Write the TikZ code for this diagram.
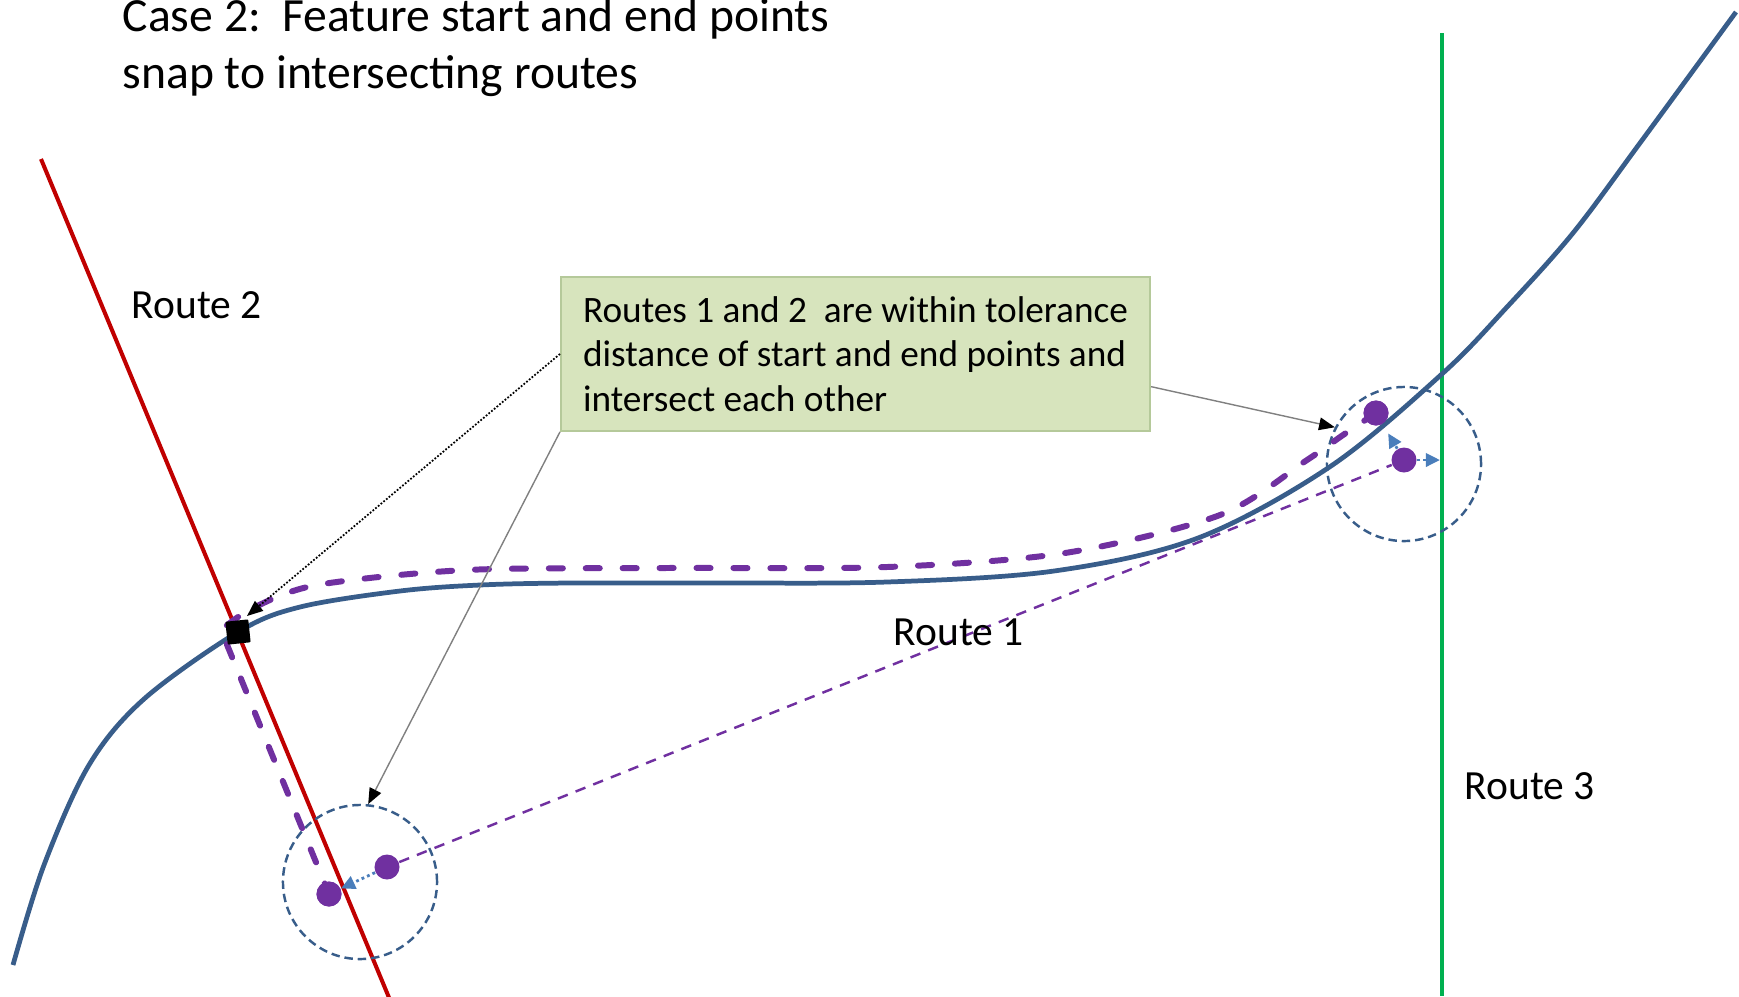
\documentclass[tikz,border=0pt]{standalone}
\usepackage{fontspec}
\setmainfont{Carlito}
\usetikzlibrary{arrows.meta,calc}
\definecolor{routeblue}{HTML}{385D8A}
\definecolor{routered}{HTML}{C00000}
\definecolor{routegreen}{HTML}{00B050}
\definecolor{featpurple}{HTML}{7030A0}
\definecolor{snapblue}{HTML}{4A7EBB}
\definecolor{notefill}{HTML}{D7E4BD}
\definecolor{noteline}{HTML}{B5C99A}
\tikzset{
  routeone/.style={draw=routeblue, line width=1.35pt},
  routetwo/.style={draw=routered, line width=1.15pt},
  routethree/.style={draw=routegreen, line width=1.25pt},
  feature/.style={draw=featpurple, line width=1.7pt, line cap=round, line join=round, dash pattern=on 4pt off 6.5pt},
  direct/.style={draw=featpurple, line width=0.7pt, dash pattern=on 3pt off 2.4pt},
  tolcircle/.style={circle, draw=routeblue, line width=0.7pt, dash pattern=on 2.4pt off 1.4pt, minimum size=1.54cm, inner sep=0pt},
  fpoint/.style={circle, fill=featpurple, minimum size=0.25cm, inner sep=0pt},
  snaparrow/.style={draw=snapblue, line width=0.8pt, dash pattern=on 0.8pt off 0.9pt, -{Triangle[length=4pt,width=3.8pt]}},
  calloutline/.style={draw=gray, line width=0.4pt, -{Triangle[length=4.5pt,width=3.6pt,color=black]}},
  calloutdots/.style={draw=black, line width=0.5pt, dash pattern=on 0.5pt off 0.5pt, -{Triangle[length=4.5pt,width=3.6pt,color=black]}},
  lab/.style={font=\fontsize{11.8}{14}\selectfont, inner sep=0pt, anchor=base west},
  notebox/.style={draw=noteline, fill=notefill, line width=0.5pt, minimum width=5.89cm, minimum height=1.54cm, inner xsep=0.2cm, inner ysep=0pt, align=left, font=\fontsize{10.6}{12.66}\selectfont},
}
\begin{document}
\begin{tikzpicture}[x=0.01cm,y=-0.01cm]
\useasboundingbox (0,0) rectangle (1739,996);
% title
\node[font=\fontsize{13.55}{16}\selectfont, inner sep=0pt, anchor=base west, align=left] (title) at (122,88)
  {Case 2:\ \ Feature start and end points\\snap to intersecting routes};
% routes
\coordinate (r2a) at (41,159);
\coordinate (r2b) at (390,1000);
\draw[routetwo] (r2a) -- (r2b);
\coordinate (r3top) at (1442,33);
\coordinate (r3bot) at (1442,996);
\draw[routethree] (r3top) -- (r3bot);
\draw[routeone] plot[smooth, tension=0.55] coordinates {(13,965) (44,865) (89,765) (144,699) (238,632) (300,607) (400,591) (480,585) (570,583) (720,583) (887,582) (1054,571) (1198,538) (1331,466) (1443,373) (1507,307) (1573,233) (1640,143) (1736,12)};
% tolerance circles
\node[tolcircle] (c1) at (360,882) {};
\node[tolcircle] (c2) at (1404,464) {};
% feature points
\node[fpoint] (p1) at (1376,413) {};
\node[fpoint] (p2) at (1404,460) {};
\node[fpoint] (p3) at (387,867) {};
\node[fpoint] (p4) at (329,894) {};
% original feature (thin dashed)
\draw[direct] (p3) -- (p2);
% snapped feature
\draw[feature] plot[smooth, tension=0.5] coordinates {(1376,413) (1343,435) (1307,460) (1220,515) (1065,553) (887,567) (665,568) (466,570) (317,585) (253,608) (221,630)} -- (329,894);
% intersection marker
\node[fill=black, minimum size=0.23cm, inner sep=0pt, rotate=6, rounded corners=0.3pt] (sq) at (238,632) {};
% redraw dots on top
\node[fpoint] at (p1) {};
\node[fpoint] at (p4) {};
% snapping arrows
\draw[snaparrow] (p3) -- (p4);
\draw[snaparrow, shorten >=3pt] (p2) -- (p1);
\draw[snaparrow, shorten >=0.6pt] (p2) -- (p2 -| r3top);
% note
\node[notebox, anchor=north west] (note) at (560,276)
  {Routes 1 and 2\ \ are within tolerance\\distance of start and end points and\\intersect each other};
\coordinate (sqtip) at (247,616);
\draw[calloutdots] (note.west) -- (sqtip);
\draw[calloutline] (note.south west) -- (c1.84);
\coordinate (noteright) at ($(note.east)!0.42!(note.south east)$);
\draw[calloutline] (noteright) -- (c2.152);
% labels
\node[lab] (l2) at (131,318) {Route 2};
\node[lab] (l1) at (893,645) {Route 1};
\node[lab] (l3) at (1464,799) {Route 3};
\end{tikzpicture}
\end{document}
